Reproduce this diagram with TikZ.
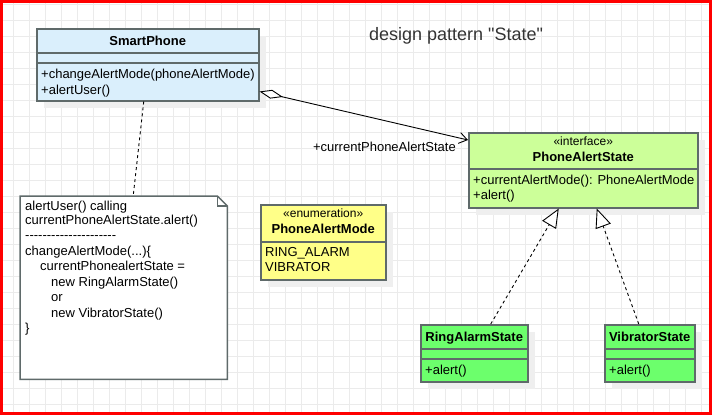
\documentclass[tikz,border=0pt]{standalone}
\usepackage{fontspec}
\setmainfont{Liberation Sans}
\newfontfamily\uifont{Liberation Sans}
\usetikzlibrary{arrows.meta,shadows,calc}

\definecolor{phoneblue}{HTML}{DAEFFC}
\definecolor{ifacegreen}{HTML}{CCFF99}
\definecolor{enumyellow}{HTML}{FFFF88}
\definecolor{stategreen}{HTML}{6CFF6C}
\definecolor{boxgray}{HTML}{5F6A6A}
\definecolor{shadowgray}{HTML}{EFEFEF}
\definecolor{gridgray}{HTML}{EBEBEB}
\definecolor{titlegray}{HTML}{333333}

\newcommand{\notedashes}{\foreach \i in {1,...,21}{-\kern0pt}}

\begin{document}
\begin{tikzpicture}[
    x=1pt, y=-1pt,
    font=\uifont\fontsize{13}{15.5}\selectfont,
    umlbox/.style={rectangle, draw=boxgray, line width=1.5pt, anchor=north west, inner sep=0pt,
                   drop shadow={shadow xshift=7pt, shadow yshift=-7pt, fill=shadowgray, opacity=1}},
    sepline/.style={draw=boxgray, line width=1.5pt},
    classname/.style={anchor=base, inner sep=0pt, font=\uifont\fontsize{13}{15.5}\selectfont\bfseries},
    stereo/.style={anchor=base, inner sep=0pt, font=\uifont\fontsize{12}{14}\selectfont},
    member/.style={anchor=base west, inner sep=0pt},
    notebox/.style={draw=boxgray, line width=1.5pt, fill=white, line join=miter},
    gridline/.style={draw=gridgray, line width=0.8pt},
    assoc/.style={line width=0.9pt, {Diamond[length=24pt, width=9pt, fill=white]}-{Straight Barb[length=8pt, width=11pt]}},
    realize/.style={line width=0.9pt, dash pattern=on 3pt off 3pt, -{Triangle[length=19pt, width=16pt, fill=white]}},
    depend/.style={line width=0.9pt, dash pattern=on 3pt off 3pt}
]
\useasboundingbox (0,0) rectangle (712,415);
\fill[white] (0,0) rectangle (712,415);
% background grid
\foreach \gx in {13,29,...,701} \draw[gridline] (\gx,0) -- (\gx,415);
\foreach \gy in {4,20,...,404} \draw[gridline] (0,\gy) -- (712,\gy);

\node[anchor=base, inner sep=0pt, text=titlegray, font=\uifont\fontsize{18}{20}\selectfont] (title) at (456,40) {design pattern "State"};

% SmartPhone
\node[umlbox, fill=phoneblue, minimum width=222pt, minimum height=72pt] (smartphone) at (36,28) {};
\draw[sepline] ([yshift=-25pt]smartphone.north west) -- ([yshift=-25pt]smartphone.north east);
\draw[sepline] ([yshift=-35pt]smartphone.north west) -- ([yshift=-35pt]smartphone.north east);
\node[classname] (spname) at ([yshift=-17pt]smartphone.north) {SmartPhone};
\node[member] (spop1) at ([xshift=5pt, yshift=-50pt]smartphone.north west) {+changeAlertMode(phoneAlertMode)};
\node[member] (spop2) at ([xshift=5pt, yshift=-66pt]smartphone.north west) {+alertUser()};

% PhoneAlertState
\node[umlbox, fill=ifacegreen, minimum width=229pt, minimum height=75pt] (phonestate) at (468,132) {};
\draw[sepline] ([yshift=-37pt]phonestate.north west) -- ([yshift=-37pt]phonestate.north east);
\node[stereo] (psstereo) at ([yshift=-13.7pt]phonestate.north) {«interface»};
\node[classname] (psname) at ([yshift=-29.7pt]phonestate.north) {PhoneAlertState};
\node[member] (psop1) at ([xshift=5pt, yshift=-52pt]phonestate.north west) {+currentAlertMode(): PhoneAlertMode};
\node[member] (psop2) at ([xshift=5pt, yshift=-67.3pt]phonestate.north west) {+alert()};

% PhoneAlertMode
\node[umlbox, fill=enumyellow, minimum width=125pt, minimum height=75pt] (alertmode) at (260,204) {};
\draw[sepline] ([yshift=-38pt]alertmode.north west) -- ([yshift=-38pt]alertmode.north east);
\node[stereo] (amstereo) at ([yshift=-13.7pt]alertmode.north) {«enumeration»};
\node[classname] (amname) at ([yshift=-29.3pt]alertmode.north) {PhoneAlertMode};
\node[member] (amval1) at ([xshift=5pt, yshift=-52.7pt]alertmode.north west) {RING\_ALARM};
\node[member] (amval2) at ([xshift=5pt, yshift=-67.7pt]alertmode.north west) {VIBRATOR};

% RingAlarmState, VibratorState
\node[umlbox, fill=stategreen, minimum width=107pt, minimum height=57pt] (ringstate) at (420,324) {};
\draw[sepline] ([yshift=-25pt]ringstate.north west) -- ([yshift=-25pt]ringstate.north east);
\draw[sepline] ([yshift=-35pt]ringstate.north west) -- ([yshift=-35pt]ringstate.north east);
\node[classname] (rsname) at ([yshift=-17pt]ringstate.north) {RingAlarmState};
\node[member] (rsop) at ([xshift=5pt, yshift=-50pt]ringstate.north west) {+alert()};

\node[umlbox, fill=stategreen, minimum width=90pt, minimum height=57pt] (vibstate) at (604,324) {};
\draw[sepline] ([yshift=-25pt]vibstate.north west) -- ([yshift=-25pt]vibstate.north east);
\draw[sepline] ([yshift=-35pt]vibstate.north west) -- ([yshift=-35pt]vibstate.north east);
\node[classname] (vsname) at ([yshift=-17pt]vibstate.north) {VibratorState};
\node[member] (vsop) at ([xshift=5pt, yshift=-50pt]vibstate.north west) {+alert()};

% note
\node[anchor=north west, inner sep=0pt, minimum width=207pt, minimum height=183pt] (note) at (20,196) {};
\draw[notebox] (note.north west) -- ([xshift=-10pt]note.north east) -- ([yshift=-10pt]note.north east)
    -- (note.south east) -- (note.south west) -- cycle;
\draw[notebox, fill=none] ([xshift=-10pt]note.north east) -- ([xshift=-10pt, yshift=-10pt]note.north east)
    -- ([yshift=-10pt]note.north east);
% base of a multi-line node = its last line
\node[member, align=left] (notetext) at ([xshift=5pt, yshift=-136.5pt]note.north west)
    {alertUser() calling\\[-1.5pt]
     currentPhoneAlertState.alert()\\
     \notedashes\\
     changeAlertMode(...)\{\\
     \hspace*{15pt}currentPhonealertState =\\
     \hspace*{26pt}new RingAlarmState()\\
     \hspace*{26pt}or\\
     \hspace*{26pt}new VibratorState()\\
     \}};

% connectors
\draw[assoc] ([yshift=10pt]smartphone.south east) -- ([yshift=-8pt]phonestate.north west);
\node[anchor=base east, inner sep=0pt] (rolelabel) at ([xshift=-12pt, yshift=-19pt]phonestate.north west) {+currentPhoneAlertState};
\draw[depend] ([xshift=-4pt]smartphone.south) -- ([xshift=9.5pt]note.north);
\draw[realize] ([xshift=16.5pt]ringstate.north) -- ([xshift=-24.5pt]phonestate.south);
\draw[realize] ([xshift=-11pt]vibstate.north) -- ([xshift=13.5pt]phonestate.south);

\draw[red, line width=3pt] (1.5,1.5) rectangle (710.5,413.5);
\end{tikzpicture}
\end{document}
